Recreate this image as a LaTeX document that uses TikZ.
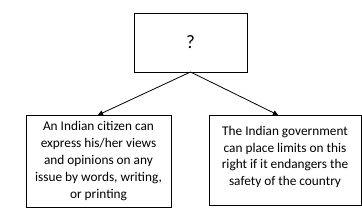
\documentclass[tikz,border=0pt]{standalone}
\usepackage{fontspec}
\setmainfont{Carlito}
\usetikzlibrary{arrows.meta}
\begin{document}
\begin{tikzpicture}[x=1pt,y=-1pt,
  box/.style={draw, line width=0.9pt, inner sep=0pt, outer sep=0pt},
  txt/.style={align=center, font=\fontsize{13.3}{16.8}\selectfont},
  conn/.style={line width=0.8pt, -{Triangle[length=5pt,width=5pt]}}]
\useasboundingbox (0,0) rectangle (362,216);
\node[box, minimum width=113pt, minimum height=59pt, font=\fontsize{19}{22}\selectfont] (q) at (190.5,42.5) {?};
\node[box, minimum width=145pt, minimum height=92pt] (l) at (98.5,161) {};
\node[box, minimum width=152pt, minimum height=90pt] (r) at (285,160) {};
\node[txt] (lt) at (98.5,161) {An Indian citizen can\\express his/her views\\and opinions on any\\issue by words, writing,\\or printing};
\node[txt] (rt) at (285,157) {The Indian government\\can place limits on this\\right if it endangers the\\safety of the country};
\coordinate (qs) at (q.south);
\coordinate (lend) at (l.north -| 98,0);
\coordinate (rend) at (r.north -| 278,0);
\draw[conn] (qs) -- (lend);
\draw[conn] (qs) -- (rend);
\end{tikzpicture}
\end{document}
